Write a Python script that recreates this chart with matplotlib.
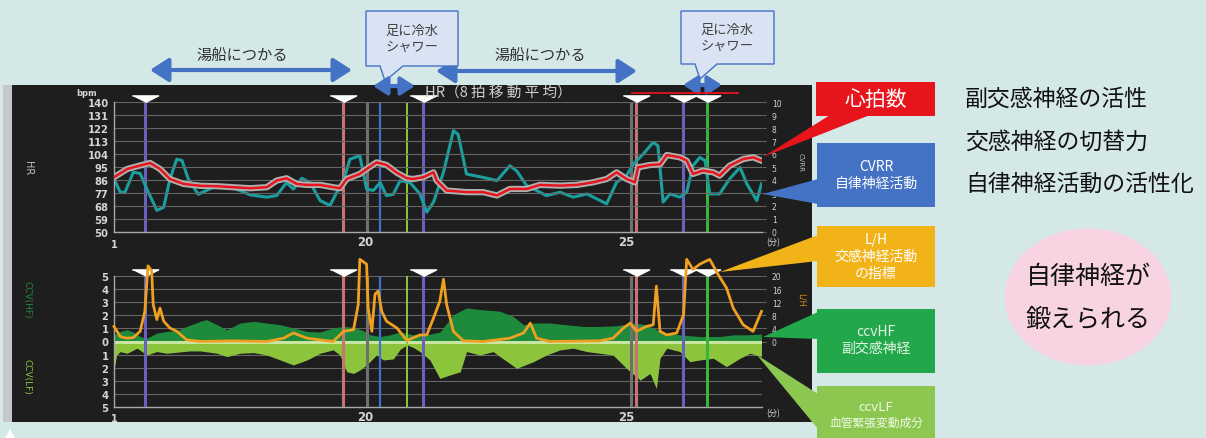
import matplotlib
matplotlib.use('Agg')
import matplotlib.pyplot as plt
from matplotlib.patches import Rectangle, Polygon, Ellipse, FancyArrowPatch
from matplotlib.markers import MarkerStyle
import numpy as np

plt.rcParams['font.family'] = ['Noto Sans CJK JP', 'DejaVu Sans']

# ---------------- data ----------------
hr_t = [15.20, 15.45, 15.64, 15.89, 16.08, 16.27, 16.53, 16.85, 17.17, 17.48,
        17.80, 18.12, 18.31, 18.50, 18.69, 18.89, 19.14, 19.39, 19.52, 19.65,
        19.90, 20.03, 20.22, 20.41, 20.61, 20.80, 20.92, 21.11, 21.31, 21.37,
        21.56, 21.94, 22.26, 22.52, 22.77, 23.09, 23.34, 23.73, 24.05, 24.36,
        24.62, 24.81, 25.00, 25.16, 25.22, 25.45, 25.64, 25.77, 26.02, 26.15,
        26.27, 26.46, 26.66, 26.78, 26.97, 27.23, 27.42, 27.58]
hr_bpm = [87.9, 93.6, 95.5, 97.8, 93.6, 86.7, 83.3, 82.0, 81.7, 81.0,
          80.3, 81.0, 85.6, 87.2, 83.3, 82.6, 82.6, 81.0, 80.3, 86.7,
          90.2, 93.6, 98.2, 96.4, 91.0, 87.2, 86.7, 87.9, 91.3, 85.6,
          78.7, 77.6, 77.6, 75.3, 79.8, 79.8, 82.6, 82.1, 82.6, 84.4,
          86.7, 91.3, 86.7, 84.4, 94.8, 96.4, 96.8, 103.3, 101.7, 99.4,
          90.2, 92.5, 91.3, 89.0, 95.9, 100.5, 101.7, 99.4]

cvrr_t = [15.20, 15.32, 15.41, 15.57, 15.70, 15.83, 16.02, 16.15, 16.27, 16.40,
          16.50, 16.62, 16.81, 16.97, 17.17, 17.48, 17.80, 18.12, 18.31, 18.50,
          18.63, 18.79, 18.95, 19.14, 19.33, 19.46, 19.59, 19.71, 19.90, 20.03,
          20.16, 20.29, 20.41, 20.54, 20.67, 20.86, 21.05, 21.18, 21.31, 21.50,
          21.69, 21.78, 21.94, 22.26, 22.52, 22.77, 22.90, 23.09, 23.28, 23.47,
          23.73, 23.98, 24.24, 24.62, 24.81, 25.00, 25.13, 25.32, 25.51, 25.60,
          25.70, 25.83, 26.02, 26.15, 26.27, 26.40, 26.50, 26.59, 26.78, 26.97,
          27.17, 27.30, 27.49, 27.58]
cvrr = [4.08, 3.06, 3.06, 4.6, 4.5, 3.3, 1.66, 1.9, 4.08, 5.6,
        5.5, 4.08, 2.9, 3.2, 3.6, 3.4, 2.86, 2.68, 2.8, 3.8,
        3.3, 4.13, 3.8, 2.42, 2.04, 3.06, 3.95, 5.6, 5.87, 3.3,
        3.2, 3.8, 2.8, 2.9, 3.95, 3.8, 2.93, 1.53, 2.3, 4.6,
        7.8, 7.5, 4.46, 4.2, 3.95, 5.1, 4.7, 3.57, 3.19, 2.8,
        3.06, 2.68, 2.93, 2.17, 3.83, 4.34, 5.23, 6.0, 6.9, 6.63,
        2.3, 2.93, 2.68, 3.06, 5.1, 5.74, 5.5, 2.93, 2.93, 4.08,
        4.97, 3.7, 2.42, 3.7]

hf_t = [15.20, 15.32, 15.45, 15.57, 15.70, 15.83, 16.02, 16.21, 16.40, 16.59,
        16.85, 16.97, 17.17, 17.36, 17.61, 17.87, 18.12, 18.38, 18.63, 18.89,
        19.14, 19.39, 19.59, 19.78, 19.97, 20.10, 20.29, 20.48, 20.67, 20.86,
        20.92, 21.18, 21.43, 21.69, 21.94, 22.20, 22.58, 22.83, 23.03, 23.22,
        23.54, 23.85, 24.17, 24.49, 24.81, 25.13, 25.38, 25.64, 25.89, 26.15,
        26.40, 26.78, 27.04, 27.30, 27.58]
ccv_hf = [0.51, 0.77, 0.9, 0.72, 0.38, 0.26, 0.64, 0.77, 0.82, 1.15,
          1.54, 1.67, 1.28, 0.9, 1.41, 1.54, 1.41, 1.28, 1.03, 0.77,
          0.72, 1.03, 1.15, 1.08, 0.82, 0.51, 0.38, 0.51, 0.72, 0.56,
          0.51, 0.51, 0.72, 2.05, 2.56, 2.44, 2.31, 1.92, 1.28, 1.41,
          1.41, 1.28, 1.15, 1.15, 1.2, 1.41, 1.28, 0.77, 0.56, 0.46,
          0.38, 0.38, 0.51, 0.51, 0.56]

lf_t = [15.20, 15.25, 15.32, 15.45, 15.64, 15.83, 16.02, 16.21, 16.40, 16.65,
        16.85, 17.17, 17.36, 17.61, 17.87, 18.12, 18.38, 18.63, 18.89, 19.14,
        19.39, 19.52, 19.65, 19.78, 19.90, 20.03, 20.22, 20.35, 20.54, 20.67,
        20.80, 20.92, 21.05, 21.24, 21.43, 21.62, 21.82, 21.94, 22.20, 22.45,
        22.58, 22.90, 23.22, 23.47, 23.73, 23.98, 24.24, 24.49, 24.74, 25.00,
        25.26, 25.45, 25.57, 25.64, 25.77, 26.02, 26.21, 26.40, 26.66, 26.91,
        27.17, 27.36, 27.58]
ccv_lf = [2.18, 1.03, 0.77, 0.9, 0.51, 1.03, 0.77, 0.9, 0.82, 0.72,
          0.72, 0.9, 1.15, 0.9, 0.85, 1.03, 1.41, 1.79, 1.41, 0.9,
          0.64, 1.03, 2.31, 2.44, 2.18, 1.79, 1.03, 1.41, 1.33, 0.6,
          0.26, 0.45, 0.77, 1.41, 2.82, 2.56, 2.31, 0.77, 1.03, 0.77,
          1.15, 2.05, 1.54, 1.03, 0.64, 0.51, 0.77, 0.9, 1.03, 2.05,
          2.95, 2.44, 3.59, 1.28, 0.51, 0.77, 1.54, 1.41, 1.28, 1.92,
          1.28, 0.9, 1.15]

lh_t = [15.20, 15.32, 15.45, 15.57, 15.70, 15.79, 15.85, 15.92, 15.95, 16.02,
        16.08, 16.15, 16.27, 16.40, 16.59, 16.85, 17.48, 18.12, 18.44, 18.63,
        18.89, 19.39, 19.59, 19.78, 19.87, 19.90, 20.03, 20.06, 20.13, 20.19,
        20.25, 20.32, 20.41, 20.61, 20.80, 21.05, 21.18, 21.31, 21.43, 21.50,
        21.56, 21.69, 21.88, 22.26, 22.77, 23.03, 23.16, 23.28, 23.54, 24.49,
        24.74, 24.94, 25.07, 25.19, 25.38, 25.51, 25.57, 25.64, 25.77, 25.96,
        26.09, 26.15, 26.27, 26.40, 26.59, 26.75, 26.91, 27.04, 27.23, 27.42,
        27.58]
lh = [4.6, 1.5, 1.0, 1.2, 3.1, 9.2, 23.1, 21.6, 11.3, 6.7,
      10.2, 6.2, 4.1, 3.1, 0.5, 0.0, 0.2, 0.0, 1.0, 2.6,
      1.0, 0.0, 3.1, 3.6, 11.3, 25.1, 23.6, 10.2, 3.1, 14.4,
      15.4, 9.2, 6.2, 4.1, 0.3, 2.0, 2.0, 7.2, 12.3, 19.0,
      11.3, 3.1, 0.2, 0.0, 1.0, 2.6, 5.6, 1.0, 0.0, 0.2,
      1.0, 4.1, 5.6, 3.1, 4.6, 5.1, 16.9, 3.1, 2.0, 2.6,
      8.2, 25.1, 22.0, 23.6, 25.1, 20.5, 16.4, 10.2, 5.1, 3.1,
      9.2]

event_t = [15.80, 19.58, 20.04, 20.29, 20.80, 21.11, 25.08, 25.19, 26.07, 26.53]
event_colors = ['#6a60c0', '#c87272', '#707070', '#3f6fd0', '#8cc83c',
                '#6a60c0', '#707070', '#c87272', '#6a60c0', '#3cb43c']
event_widths = [2.2, 2.2, 2.2, 1.6, 1.4, 2.2, 2.2, 2.2, 2.2, 2.2]
marker_t = [15.80, 19.58, 21.11, 25.19, 26.07, 26.53]

hr_ticks = [50, 59, 68, 77, 86, 95, 104, 113, 122, 131, 140]
cvrr_ticks = list(range(0, 11))
ccv_ticks = list(range(-5, 6))
ccv_ticklabels = [str(abs(v)) for v in ccv_ticks]
lh_ticks = [0, 4, 8, 12, 16, 20]
time_ticks = [20, 25]
time_ticklabels = ['20', '25']
XMIN, XMAX = 15.2, 27.59

# ---------------- figure ----------------
W, H = 1206, 439
fig = plt.figure(figsize=(W / 100, H / 100), dpi=100)
BG = '#d5e8e8'
fig.patch.set_facecolor(BG)

bg = fig.add_axes([0, 0, 1, 1], zorder=0)
bg.set_xlim(0, W); bg.set_ylim(H, 0); bg.axis('off')
fg = fig.add_axes([0, 0, 1, 1], zorder=10)
fg.set_xlim(0, W); fg.set_ylim(H, 0); fg.axis('off')
fg.patch.set_visible(False)

# dark panel
bg.add_patch(Rectangle((3, 86), 9, 337, color='#c4c8c8', lw=0))
bg.add_patch(Rectangle((12, 86), 800, 337, color='#1e1e1e', lw=0))
bg.add_patch(Polygon([(5, 439), (15, 439), (10, 430)], closed=True, color='white', lw=0))

def fr(x0, y0, x1, y1):
    return [x0 / W, 1 - y1 / H, (x1 - x0) / W, (y1 - y0) / H]

TICKC = '#d4d4d4'
GRIDC = '#666666'
SPC = '#a8a8a8'

def style_axes(ax):
    ax.patch.set_visible(False)
    for s in ['top', 'right']:
        ax.spines[s].set_visible(False)
    ax.spines['left'].set_color(SPC)
    ax.spines['bottom'].set_color(SPC)
    ax.spines['left'].set_linewidth(1.0)
    ax.spines['bottom'].set_linewidth(1.0)
    ax.yaxis.grid(True, color=GRIDC, lw=0.8)
    ax.set_axisbelow(True)
    ax.set_xlim(XMIN, XMAX)
    ax.set_xticks(time_ticks)
    ax.set_xticklabels(time_ticklabels, fontfamily='DejaVu Sans', fontsize=8.5,
                       fontweight='bold', color=TICKC)
    ax.tick_params(axis='x', length=0, pad=2)
    ax.tick_params(axis='y', length=0, pad=4)

def style_twin(ax):
    ax.patch.set_visible(False)
    for s in ax.spines.values():
        s.set_visible(False)
    ax.tick_params(axis='y', length=3, color=GRIDC, pad=4, labelsize=5.5,
                   labelcolor=TICKC)

tri = MarkerStyle([(-1, 0.5), (1, 0.5), (0, 0)])

# ----- upper panel -----
ax1 = fig.add_axes(fr(114, 103, 762, 233), zorder=3)
ax1r = ax1.twinx()
ax1r.set_zorder(2)
style_axes(ax1)
style_twin(ax1r)
ax1.set_ylim(50, 140)
ax1.set_yticks(hr_ticks)
ax1.set_yticklabels([str(v) for v in hr_ticks], fontfamily='DejaVu Sans',
                    fontsize=7.2, fontweight='bold', color=TICKC)
ax1r.set_ylim(0, 10)
ax1r.set_yticks(cvrr_ticks)
ax1r.set_yticklabels([str(v) for v in cvrr_ticks], fontfamily='DejaVu Sans')

for t, c, w in zip(event_t, event_colors, event_widths):
    ax1r.axvline(t, color=c, lw=w, zorder=1)
ax1r.plot(cvrr_t, cvrr, color='#1a9e9e', lw=2.2, zorder=3, solid_joinstyle='round')
ax1.plot(hr_t, hr_bpm, color='#b0b0b0', lw=4.5, zorder=2)
ax1.plot(hr_t, hr_bpm, color='#e8141c', lw=1.8, zorder=3)
ax1.plot(marker_t, [140] * len(marker_t), ls='none', marker=tri, ms=19,
         color='white', clip_on=False, zorder=5)

ax1.annotate('1', xy=(XMIN, 50), xytext=(0, -9), textcoords='offset points',
             ha='center', va='center', fontsize=7, fontweight='bold',
             color=TICKC, fontfamily='DejaVu Sans')
ax1.annotate('(分)', xy=(XMAX, 50), xytext=(8, -7), textcoords='offset points',
             ha='center', va='center', fontsize=6, color=TICKC)

# ----- lower panel -----
ax2 = fig.add_axes(fr(114, 277, 762, 408), zorder=3)
ax2r = ax2.twinx()
ax2r.set_zorder(4)
style_axes(ax2)
style_twin(ax2r)
ax2.set_ylim(-5, 5)
ax2.set_yticks(ccv_ticks)
ax2.set_yticklabels(ccv_ticklabels, fontfamily='DejaVu Sans', fontsize=7.2,
                    fontweight='bold', color=TICKC)
ax2r.set_ylim(-20, 20)
ax2r.set_yticks(lh_ticks)
ax2r.set_yticklabels([str(v) for v in lh_ticks], fontfamily='DejaVu Sans')

ax2.fill_between(hf_t, 0, ccv_hf, color='#1e8a3c', lw=0, zorder=1)
ax2.fill_between(lf_t, 0, [-v for v in ccv_lf], color='#8cc43c', lw=0, zorder=1)
ax2.axhline(0, color='#c8e6a0', lw=2.2, zorder=2)
for t, c, w in zip(event_t, event_colors, event_widths):
    ax2.axvline(t, color=c, lw=w, zorder=3)
ax2r.plot(lh_t, lh, color='#f0a020', lw=2.0, clip_on=False, zorder=3)
ax2.plot(marker_t, [5] * len(marker_t), ls='none', marker=tri, ms=19,
         color='white', clip_on=False, zorder=6)

ax2.annotate('1', xy=(XMIN, -5), xytext=(0, -8), textcoords='offset points',
             ha='center', va='center', fontsize=7, fontweight='bold',
             color=TICKC, fontfamily='DejaVu Sans')
ax2.annotate('(分)', xy=(XMAX, -5), xytext=(8, -4), textcoords='offset points',
             ha='center', va='center', fontsize=6, color=TICKC)

# ----- panel texts -----
fg.text(87, 93, 'bpm', fontsize=6, color=TICKC, ha='center', va='center',
        fontfamily='DejaVu Sans', fontweight='bold')
fg.text(425, 93, 'HR（8 拍 移 動 平 均）', fontsize=10.5, color='#cfcfcf',
        ha='left', va='center')
fg.plot([632, 738], [94, 94], color='#e8141c', lw=1.3)
fg.text(28, 168, 'HR', rotation=270, fontsize=7, color='#bdbdbd',
        ha='center', va='center', fontfamily='DejaVu Sans')
fg.text(27, 300, 'CCV(HF)', rotation=270, fontsize=6.5, color='#1e8a3c',
        ha='center', va='center', fontfamily='DejaVu Sans')
fg.text(27, 377, 'CCV(LF)', rotation=270, fontsize=6.5, color='#8cc43c',
        ha='center', va='center', fontfamily='DejaVu Sans')
fg.text(801, 163, 'CVRR', rotation=270, fontsize=5, color='#bdbdbd',
        ha='center', va='center', fontfamily='DejaVu Sans')
fg.text(801, 300, 'L/H', rotation=270, fontsize=6, color='#d08a20',
        ha='center', va='center', fontfamily='DejaVu Sans')

# ----- top annotations -----
BLUE = '#4472c4'
def darrow(x0, x1, y, ms=16, lw=3):
    fg.add_patch(FancyArrowPatch((x0, y), (x1, y),
                 arrowstyle='<|-|>,head_length=0.7,head_width=0.45',
                 mutation_scale=ms, color=BLUE, lw=lw, shrinkA=0, shrinkB=0))

fg.text(242, 55, '湯船につかる', fontsize=11, color='#303030', ha='center', va='center')
darrow(150, 352, 71)
fg.text(540, 55, '湯船につかる', fontsize=11, color='#303030', ha='center', va='center')
darrow(436, 637, 72)

fg.add_patch(Polygon([(366, 12), (458, 12), (458, 67), (403, 67), (385, 82),
                      (380, 67), (366, 67)], closed=True, fc='#dae3f3',
                     ec=BLUE, lw=1))
fg.text(412, 31, '足に冷水', fontsize=9.5, color='#404040', ha='center', va='center')
fg.text(412, 47, 'シャワー', fontsize=9.5, color='#404040', ha='center', va='center')
darrow(373, 415, 87, ms=12, lw=3)

fg.add_patch(Polygon([(681, 12), (774, 12), (774, 65), (717, 65), (700, 80),
                      (695, 65), (681, 65)], closed=True, fc='#dae3f3',
                     ec=BLUE, lw=1))
fg.text(727, 30, '足に冷水', fontsize=9.5, color='#404040', ha='center', va='center')
fg.text(727, 46, 'シャワー', fontsize=9.5, color='#404040', ha='center', va='center')
darrow(683, 722, 86, ms=12, lw=3)

# ----- callout boxes -----
def callout(x0, y0, x1, y1, color, tail, lines, tc='white'):
    fg.add_patch(Polygon(tail, closed=True, color=color, lw=0))
    fg.add_patch(Rectangle((x0, y0), x1 - x0, y1 - y0, color=color, lw=0))
    for (txt, y, f) in lines:
        fg.text((x0 + x1) / 2, y, txt, fontsize=f, color=tc, ha='center', va='center')

callout(816, 83, 935, 117, '#e8141c', [(763, 158), (830, 116), (870, 116)],
        [('心拍数', 100, 15)])
callout(817, 144, 935, 208, '#4472c4', [(763, 195), (818, 180), (818, 205)],
        [('CVRR', 167, 10), ('自律神経活動', 184, 10)])
callout(817, 227, 935, 288, '#f2b318', [(720, 273), (818, 236), (818, 262)],
        [('L/H', 240, 10), ('交感神経活動', 257, 10), ('の指標', 274, 10)])
callout(817, 310, 935, 374, '#22a84a', [(763, 338), (818, 313), (818, 340)],
        [('ccvHF', 332, 10), ('副交感神経', 349, 10)], tc='#e4f4e4')
callout(817, 387, 935, 439, '#8cc850', [(757, 356), (818, 395), (818, 430)],
        [('ccvLF', 408, 9.5), ('血管緊張変動成分', 423, 8.5)], tc='#f0f8e8')

# ----- right texts -----
fg.text(965, 99, '副交感神経の活性', fontsize=16.5, color='#111111', ha='left', va='center')
fg.text(965, 142, '交感神経の切替力', fontsize=16.5, color='#111111', ha='left', va='center')
fg.text(965, 184, '自律神経活動の活性化', fontsize=16.5, color='#111111', ha='left', va='center')

fg.add_patch(Ellipse((1088, 298), 167, 137, color='#f8d4e2', lw=0))
fg.text(1088, 277, '自律神経が', fontsize=18, color='#111111', ha='center', va='center')
fg.text(1088, 320, '鍛えられる', fontsize=18, color='#111111', ha='center', va='center')

fig.savefig('out.png', dpi=100, facecolor=BG)
